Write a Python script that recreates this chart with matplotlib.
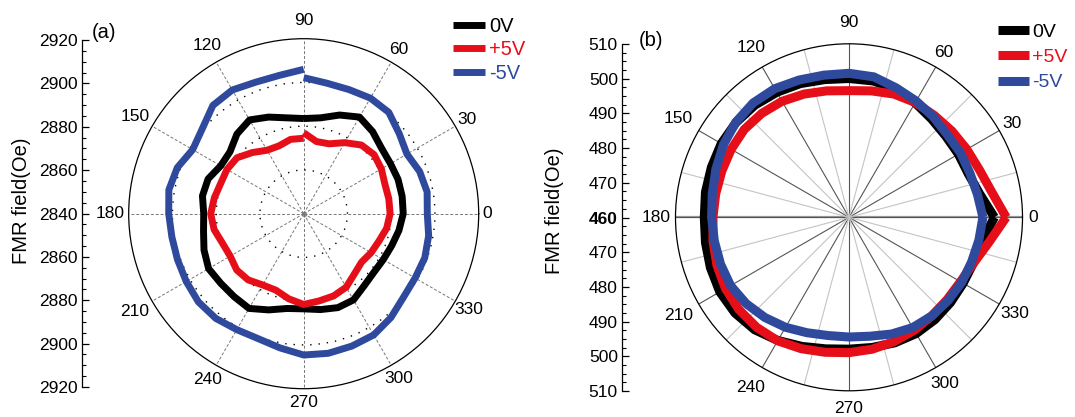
import numpy as np
import matplotlib
matplotlib.use("Agg")
import matplotlib.pyplot as plt
from matplotlib.ticker import MultipleLocator, FuncFormatter

plt.rcParams['font.family'] = ['Liberation Sans Narrow', 'Liberation Sans', 'DejaVu Sans']

# ---- panel (a): FMR field (Oe) vs in-plane angle ----
ang_a = np.arange(90, 451, 10)
a_0v = [2883.5, 2884.5, 2887.0, 2889.5, 2887.5, 2884.0, 2883.8, 2886.5, 2887.0, 2885.7,
        2886.5, 2888.5, 2890.2, 2889.5, 2889.5, 2890.0, 2886.8, 2884.0, 2883.5, 2884.5,
        2885.7, 2885.5, 2883.0, 2881.8, 2882.0, 2882.8, 2884.2, 2885.5, 2885.7, 2885.9,
        2885.8, 2886.5, 2889.0, 2891.0, 2888.0, 2884.5, 2883.5]
a_p5v = [2874.5, 2874.5, 2873.0, 2873.5, 2876.5, 2879.8, 2880.5, 2880.4, 2881.5, 2882.5,
         2881.6, 2879.5, 2878.8, 2880.0, 2879.5, 2877.6, 2877.2, 2879.5, 2881.5, 2880.5,
         2880.0, 2878.8, 2876.0, 2874.5, 2875.6, 2876.6, 2878.5, 2879.5, 2879.5, 2879.5,
         2881.0, 2882.0, 2881.0, 2877.5, 2874.0, 2873.5, 2877.0]
a_m5v = [2906.0, 2904.2, 2904.0, 2905.3, 2904.6, 2900.5, 2898.6, 2901.5, 2902.6, 2901.7,
         2901.2, 2901.4, 2902.0, 2902.8, 2902.5, 2901.2, 2900.8, 2902.3, 2904.6, 2904.8,
         2904.4, 2904.0, 2902.0, 2899.5, 2898.8, 2898.9, 2898.0, 2896.5, 2897.3, 2896.4,
         2894.5, 2897.0, 2900.5, 2901.0, 2900.4, 2900.6, 2902.2]

# ---- panel (b) ----
ang_b = np.arange(0, 361, 10)
b_0v = [501.9, 498.3, 496.6, 496.4, 496.4, 497.0, 498.1, 499.4, 499.9, 500.0,
        500.3, 501.0, 501.6, 502.2, 502.5, 502.5, 502.2, 502.0, 501.7, 502.0,
        502.5, 503.0, 502.9, 502.3, 501.0, 499.6, 498.5, 498.0, 498.1, 498.5,
        498.7, 498.5, 498.2, 498.0, 498.2, 499.0, 501.9]
b_p5v = [505.3, 501.8, 500.0, 499.2, 498.7, 498.3, 498.2, 497.8, 497.0, 496.5,
         497.0, 497.8, 498.6, 499.1, 499.4, 499.2, 499.0, 499.0, 499.2, 499.8,
         500.5, 501.1, 501.4, 501.4, 501.1, 500.3, 499.5, 499.0, 498.6, 498.1,
         497.6, 497.1, 496.9, 497.1, 498.3, 501.0, 505.3]
b_m5v = [498.6, 497.6, 497.1, 497.1, 497.0, 497.8, 498.7, 499.7, 501.1, 501.5,
         501.6, 502.1, 502.8, 503.0, 502.6, 501.8, 500.8, 500.0, 499.6, 499.4,
         499.4, 499.4, 498.7, 497.7, 496.6, 495.4, 494.6, 494.5, 494.8, 495.8,
         496.7, 497.1, 497.3, 497.5, 497.6, 498.0, 498.6]

labels = ['0V', '+5V', '-5V']
colors = ['#000000', '#e60f19', '#2f4a9d']
angle_ticks = list(range(0, 360, 30))

W, H = 1075, 417
fig = plt.figure(figsize=(W / 100, H / 100), dpi=100)


def px_rect(cx, cy, r):
    # square box around a centre given in pixels (y from top)
    return [(cx - r) / W, (H - cy - r) / H, 2 * r / W, 2 * r / H]


def side_axis(x, ytop, ybot, base, span, major, minor):
    ax = fig.add_axes([x / W, (H - ybot) / H, 0.001, (ybot - ytop) / H])
    ax.set_ylim(-span, span)
    ax.yaxis.set_major_locator(MultipleLocator(major))
    ax.yaxis.set_minor_locator(MultipleLocator(minor))
    ax.yaxis.set_major_formatter(FuncFormatter(lambda v, p: '%d' % round(base + abs(v))))
    for s in ['top', 'right', 'bottom']:
        ax.spines[s].set_visible(False)
    ax.spines['left'].set_linewidth(0.9)
    ax.set_xticks([])
    ax.patch.set_visible(False)
    ax.tick_params(axis='y', which='major', direction='in', length=5, width=0.9,
                   labelsize=12.5, pad=3)
    ax.tick_params(axis='y', which='minor', direction='in', length=3, width=0.8)
    return ax


def polar_panel(c, rmin, rmax, label_dist):
    cx, cy, R = c
    ax = fig.add_axes(px_rect(cx, cy, R), projection='polar')
    ax.set_ylim(rmin, rmax)
    ax.set_xticks(np.deg2rad(angle_ticks))
    ax.set_xticklabels([])
    ax.set_xticks(np.deg2rad(np.arange(15, 360, 30)), minor=True)
    ax.tick_params(axis='x', which='both', direction='in', length=4, width=0.8)
    ax.spines['polar'].set_linewidth(0.9)
    # angle labels just outside the rim (distances in pixels from the centre)
    for a, d in zip(angle_ticks, label_dist):
        ax.text(np.deg2rad(a), rmin + d / R * (rmax - rmin), str(a), ha='center',
                va='center', fontsize=12.5, clip_on=False)
    return ax


# ---------------- (a) ----------------
axa = polar_panel((303.7, 213.7, 175.0), 2840, 2920,
                  [183, 188, 190, 193, 194, 195, 194, 195, 192, 189, 190, 191])
axa.set_yticks([2860, 2880, 2900])
axa.set_yticklabels([])
axa.xaxis.grid(True, which='major', color='#777777', ls=(0, (3, 2)), lw=0.7)
axa.yaxis.grid(True, color='black', ls=(0, (1, 5)), lw=1.0)
axa.plot([0], [2840], 'o', color='#999999', ms=3, zorder=1)
lines_a = []
for vals, c, lab in zip([a_0v, a_p5v, a_m5v], colors, labels):
    ln, = axa.plot(np.deg2rad(ang_a), vals, color=c, lw=5, label=lab,
                   solid_joinstyle='round', solid_capstyle='butt')
    lines_a.append(ln)

sa = side_axis(82, 40, 387, 2840, 80, 20, 5)
fig.text(22 / W, 1 - 201 / H, 'FMR field(Oe)', rotation=90, ha='center', va='center', fontsize=14.5)
fig.text(104 / W, 1 - 33 / H, '(a)', ha='center', va='center', fontsize=14.5)
leg = fig.legend(handles=lines_a, loc='upper left', bbox_to_anchor=(453 / W, 1 - 17 / H),
                 frameon=False, fontsize=14.5, handlelength=1.6, handletextpad=0.2,
                 labelspacing=0.22, borderpad=0, borderaxespad=0)
for t, c in zip(leg.get_texts(), colors):
    t.set_color(c)

# ---------------- (b) ----------------
axb = polar_panel((849.0, 217.3, 173.5), 460, 510,
                  [184, 188, 190, 195, 196, 197, 193, 197, 196, 191, 192, 192])
axb.set_yticks([])
axb.xaxis.grid(True, which='major', color='#555555', ls='-', lw=0.8)
axb.xaxis.grid(True, which='minor', color='#c4c4c4', ls='-', lw=0.8)
axb.plot([0, 0], [460, 510], color='#999999', lw=1.6, zorder=1)
axb.plot([np.pi, np.pi], [460, 510], color='#999999', lw=1.6, zorder=1)
lines_b = []
for vals, c, lab in zip([b_0v, b_p5v, b_m5v], colors, labels):
    ln, = axb.plot(np.deg2rad(ang_b), vals, color=c, lw=6.5, label=lab,
                   solid_joinstyle='miter', solid_capstyle='butt')
    lines_b.append(ln)

sb = side_axis(622, 44, 391, 460, 50, 10, 2.5)
for t in sb.get_yticklabels():
    if t.get_text() == '460':
        t.set_fontweight('bold')
fig.text(554 / W, 1 - 211 / H, 'FMR field(Oe)', rotation=90, ha='center', va='center', fontsize=14.5)
fig.text(651 / W, 1 - 40 / H, '(b)', ha='center', va='center', fontsize=14.5)
leg = fig.legend(handles=lines_b, loc='upper left', bbox_to_anchor=(998 / W, 1 - 23 / H),
                 frameon=False, fontsize=14, handlelength=1.6, handletextpad=0.15,
                 labelspacing=0.4, borderpad=0, borderaxespad=0)
for t, c in zip(leg.get_texts(), colors):
    t.set_color(c)

fig.savefig('out.png', dpi=100)
